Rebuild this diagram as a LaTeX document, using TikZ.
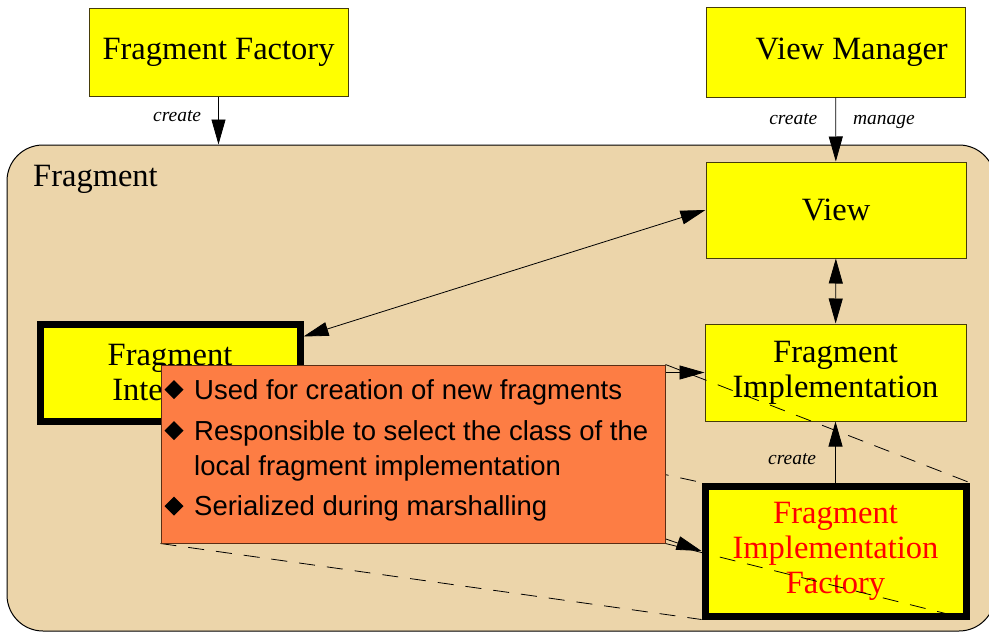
\documentclass[tikz,border=0pt]{standalone}
\usepackage{fontspec}
\setmainfont{Liberation Serif}
\newfontfamily\notefont{Liberation Sans}
\usetikzlibrary{arrows.meta}
\pgfdeclarelayer{back}
\pgfdeclarelayer{mid}
\pgfsetlayers{back,mid,main}
\definecolor{fragtan}{RGB}{236,213,170}
\definecolor{noteorange}{RGB}{253,125,68}
\definecolor{boxedge}{RGB}{70,60,10}
\definecolor{noteedge}{RGB}{90,45,20}
\definecolor{boxyellow}{RGB}{255,255,0}

\begin{document}
\begin{tikzpicture}[x=1pt, y=-1pt,
  box/.style={draw=boxedge, line width=1pt, fill=boxyellow, inner sep=0pt,
    align=center, font=\fontsize{32.5}{35}\selectfont},
  thickbox/.style={box, draw=black, line width=7pt},
  tipA/.tip={Triangle[length=25pt, width=14pt]},
  arr/.style={-tipA, line width=0.8pt},
  arrboth/.style={tipA-tipA, line width=0.8pt},
  lbl/.style={font=\fontsize{19.5}{21}\selectfont\itshape, inner sep=0pt},
  dashline/.style={dash pattern=on 16pt off 12pt, line width=0.8pt},
  notetext/.style={font=\notefont\fontsize{27.5}{30}\selectfont, inner sep=0pt, anchor=base west},
]
\useasboundingbox (0,0) rectangle (989,632);

% containers and boxes
\begin{pgfonlayer}{back}
  \node[draw=black, line width=1pt, fill=fragtan, rounded corners=36pt,
        minimum width=988pt, minimum height=486pt, inner sep=0pt] (frag) at (501,388) {};
  \node[inner sep=0pt, anchor=base west, font=\fontsize{32.5}{35}\selectfont] (fraglbl) at (33,186) {Fragment};

  \node[box, minimum width=259pt, minimum height=88pt] (ff) at (218.5,52) {Fragment Factory};
  \node[box, minimum width=259pt, minimum height=90pt] (vm) at (835.5,52) {\hspace*{1em}View Manager};
  \node[box, minimum width=260pt, minimum height=96pt] (view) at (836,210) {View};
  \node[box, minimum width=261pt, minimum height=97pt] (fimpl) at (835.5,372.5) {Fragment\\Implementation};
  \node[thickbox, minimum width=260pt, minimum height=97pt] (fi) at (170,372.5) {Fragment\\Interface};
  \node[thickbox, minimum width=261pt, minimum height=130pt, text=red] (fif) at (835.5,551)
       {Fragment\\Implementation\\Factory};
\end{pgfonlayer}

% note box on top
\node[draw=noteedge, line width=1pt, fill=noteorange, minimum width=504pt,
      minimum height=178pt, inner sep=0pt] (note) at (413,454) {};
\foreach \y in {389.5,430.5,506}{
  \fill (174,\y) ++(-9.5,0) -- ++(9.5,9.5) -- ++(9.5,-9.5) -- ++(-9.5,-9.5) -- cycle;
}
\node[notetext] (item1) at (194,399) {Used for creation of new fragments};
\node[notetext] (item2a) at (194,440) {Responsible to select the class of the};
\node[notetext] (item2b) at (194,475) {local fragment implementation};
\node[notetext] (item3) at (194,515) {Serialized during marshalling};

% connectors
\begin{pgfonlayer}{mid}
  \draw[arr] (ff.south) -- node[lbl, anchor=base east, pos=0.53, xshift=-17pt] (ffcreate) {create}
        (ff.south |- frag.north);
  \draw[arr] (vm) -- node[lbl, anchor=base east, pos=0.42, xshift=-18pt] (vmcreate) {create}
        node[lbl, anchor=base west, pos=0.42, xshift=17pt] (vmmanage) {manage} (view);
  \draw[arrboth] ([yshift=-16pt]fi.north east) -- (view.west);
  \draw[arrboth] (view) -- (fimpl);
  \draw[arr] (fi.east) -- (fimpl.west);
  \draw[arr] (fi) -- (fif.west);
  \draw[arr] (fif) -- node[lbl, anchor=base east, pos=0.30, xshift=-19pt] (fifcreate) {create} (fimpl);

  \draw[dashline] (note.north west) -- (fif.north west);
  \draw[dashline] (note.north east) -- (fif.north east);
  \draw[dashline] (note.south west) -- (fif.south west);
  \draw[dashline] (note.south east) -- (fif.south east);
\end{pgfonlayer}
\end{tikzpicture}
\end{document}
